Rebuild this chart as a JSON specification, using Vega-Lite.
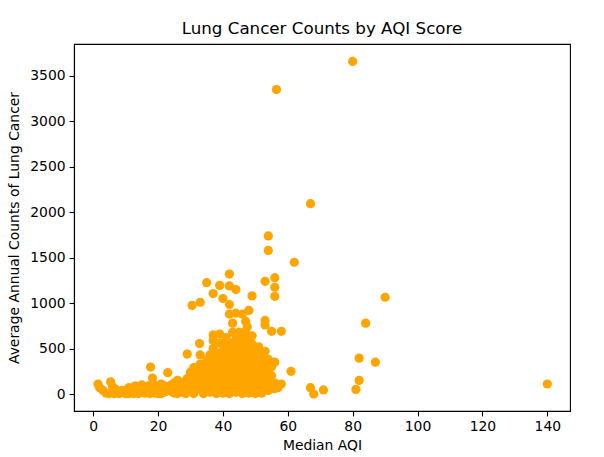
{"$schema":"https://vega.github.io/schema/vega-lite/v6.json","width":496,"height":367,"autosize":{"type":"none"},"padding":{"left":74,"top":44,"right":34,"bottom":46},"background":"white","title":{"text":"Lung Cancer Counts by AQI Score","font":"DejaVu Sans","fontSize":16.7,"fontWeight":"normal","color":"black","offset":6,"anchor":"middle"},"config":{"view":{"stroke":"black","strokeWidth":1.1},"axis":{"grid":false,"domainColor":"black","domainWidth":1.1,"tickColor":"black","tickWidth":1.1,"tickSize":4.9,"labelColor":"black","titleColor":"black","labelFont":"DejaVu Sans","titleFont":"DejaVu Sans","labelFontSize":13.9,"titleFontSize":13.9,"titleFontWeight":"normal","labelPadding":4}},"data":{"values":[
{"x":80,"y":3660},{"x":56.5,"y":3350},{"x":67,"y":2095},{"x":54,"y":1740},{"x":54,"y":1580},{"x":62,"y":1450},{"x":42,"y":1320},{"x":56,"y":1280},{"x":35,"y":1225},{"x":53,"y":1240},{"x":56,"y":1175},{"x":39,"y":1195},{"x":42,"y":1190},{"x":44,"y":1150},{"x":37,"y":1105},{"x":56,"y":1075},{"x":49,"y":1080},{"x":90,"y":1065},{"x":40,"y":1050},{"x":33,"y":1010},{"x":42,"y":985},{"x":30.5,"y":975},{"x":44,"y":890},{"x":42,"y":880},{"x":46,"y":880},{"x":48,"y":920},{"x":84,"y":780},{"x":53,"y":810},{"x":53,"y":760},{"x":43,"y":780},{"x":55,"y":690},{"x":58,"y":690},{"x":47,"y":800},{"x":47.5,"y":740},{"x":82,"y":395},{"x":87,"y":350},{"x":61,"y":250},{"x":81,"y":50},{"x":82,"y":150},{"x":71,"y":45},{"x":67,"y":70},{"x":68,"y":0},{"x":140,"y":110},{"x":58,"y":110},{"x":57,"y":70},
{"x":1.5,"y":110},{"x":2,"y":70},{"x":3,"y":40},{"x":4,"y":10},{"x":5.4,"y":135},{"x":6,"y":80},{"x":7,"y":50},{"x":8,"y":5},{"x":10,"y":5},{"x":11,"y":70},{"x":12,"y":20},{"x":13,"y":90},{"x":14,"y":5},{"x":15,"y":100},{"x":16,"y":10},{"x":17,"y":90},{"x":17.7,"y":297},{"x":18.3,"y":175},{"x":19,"y":10},{"x":20,"y":60},{"x":21,"y":5},{"x":22,"y":90},{"x":23,"y":235},{"x":24,"y":100},{"x":25,"y":10},{"x":26,"y":150},{"x":27,"y":20},{"x":28,"y":120},{"x":29,"y":440},{"x":29,"y":30},{"x":30,"y":130},{"x":30,"y":240},{"x":31,"y":5},{"x":31,"y":290},{"x":32.8,"y":555},{"x":33,"y":430},{"x":36,"y":430},{"x":38,"y":410},
{"x":5,"y":5},{"x":6.5,"y":5},{"x":9,"y":40},{"x":11,"y":5},{"x":12.5,"y":5},{"x":14.5,"y":50},{"x":16,"y":50},{"x":17.5,"y":5},{"x":18.5,"y":60},{"x":20,"y":5},{"x":22,"y":20},{"x":23,"y":60},{"x":24,"y":30},{"x":26,"y":5},{"x":26,"y":70},{"x":27.5,"y":80},{"x":28.5,"y":5},{"x":30,"y":60},{"x":29,"y":80},{"x":19,"y":100},{"x":21,"y":110},{"x":25,"y":120},{"x":27,"y":130},{"x":29,"y":170},
{"x":32,"y":100},{"x":32,"y":200},{"x":34,"y":5},{"x":34,"y":110},{"x":34,"y":200},{"x":34,"y":310},{"x":36,"y":20},{"x":36,"y":120},{"x":36,"y":220},{"x":36,"y":320},{"x":37,"y":500},{"x":37,"y":590},{"x":37,"y":650},{"x":38,"y":5},{"x":38,"y":100},{"x":38,"y":190},{"x":38,"y":290},{"x":38,"y":370},{"x":39,"y":560},{"x":39,"y":660},{"x":40,"y":10},{"x":40,"y":110},{"x":40,"y":210},{"x":40,"y":300},{"x":40,"y":390},{"x":40,"y":470},{"x":41,"y":620},{"x":42,"y":5},{"x":42,"y":100},{"x":42,"y":200},{"x":42,"y":300},{"x":42,"y":400},{"x":42,"y":510},{"x":43,"y":680},{"x":44,"y":20},{"x":44,"y":120},{"x":44,"y":220},{"x":44,"y":320},{"x":44,"y":420},{"x":44,"y":520},{"x":44,"y":600},{"x":45,"y":680},{"x":46,"y":5},{"x":46,"y":100},{"x":46,"y":200},{"x":46,"y":300},{"x":46,"y":400},{"x":46,"y":500},{"x":46,"y":610},{"x":47,"y":690},{"x":48,"y":10},{"x":48,"y":110},{"x":48,"y":210},{"x":48,"y":310},{"x":48,"y":410},{"x":48,"y":520},{"x":48,"y":610},{"x":49,"y":640},{"x":50,"y":5},{"x":50,"y":100},{"x":50,"y":200},{"x":50,"y":300},{"x":50,"y":400},{"x":51,"y":520},{"x":52,"y":10},{"x":52,"y":110},{"x":52,"y":210},{"x":52,"y":310},{"x":52,"y":400},{"x":53,"y":470},{"x":54,"y":40},{"x":54,"y":150},{"x":54,"y":260},{"x":54,"y":380},{"x":55,"y":200},{"x":55,"y":300},{"x":56,"y":350},{"x":56,"y":120},{"x":56,"y":60},
{"x":31,"y":60},{"x":31,"y":160},{"x":33,"y":50},{"x":33,"y":150},{"x":33,"y":250},{"x":33,"y":330},{"x":35,"y":60},{"x":35,"y":160},{"x":35,"y":260},{"x":35,"y":370},{"x":37,"y":50},{"x":37,"y":150},{"x":37,"y":250},{"x":37,"y":340},{"x":39,"y":50},{"x":39,"y":150},{"x":39,"y":250},{"x":39,"y":340},{"x":39,"y":450},{"x":41,"y":50},{"x":41,"y":150},{"x":41,"y":250},{"x":41,"y":350},{"x":41,"y":450},{"x":41,"y":540},{"x":43,"y":50},{"x":43,"y":150},{"x":43,"y":250},{"x":43,"y":350},{"x":43,"y":450},{"x":43,"y":560},{"x":45,"y":50},{"x":45,"y":150},{"x":45,"y":250},{"x":45,"y":350},{"x":45,"y":450},{"x":45,"y":560},{"x":47,"y":50},{"x":47,"y":150},{"x":47,"y":250},{"x":47,"y":350},{"x":47,"y":450},{"x":47,"y":570},{"x":49,"y":50},{"x":49,"y":150},{"x":49,"y":250},{"x":49,"y":350},{"x":49,"y":460},{"x":49,"y":550},{"x":51,"y":50},{"x":51,"y":150},{"x":51,"y":250},{"x":51,"y":350},{"x":51,"y":440},{"x":53,"y":60},{"x":53,"y":160},{"x":53,"y":260},{"x":53,"y":350},{"x":55,"y":60},{"x":55,"y":130}
]},"mark":{"type":"point","shape":"circle","filled":true,"color":"#FFA500","opacity":1,"size":85},"encoding":{"x":{"field":"x","type":"quantitative","title":"Median AQI","scale":{"domain":[-5.9,147],"nice":false,"zero":false},"axis":{"values":[0,20,40,60,80,100,120,140],"titlePadding":5}},"y":{"field":"y","type":"quantitative","title":"Average Annual Counts of Lung Cancer","scale":{"domain":[-187,3852],"nice":false,"zero":false},"axis":{"values":[0,500,1000,1500,2000,2500,3000,3500],"format":"d","titlePadding":8}}}}
